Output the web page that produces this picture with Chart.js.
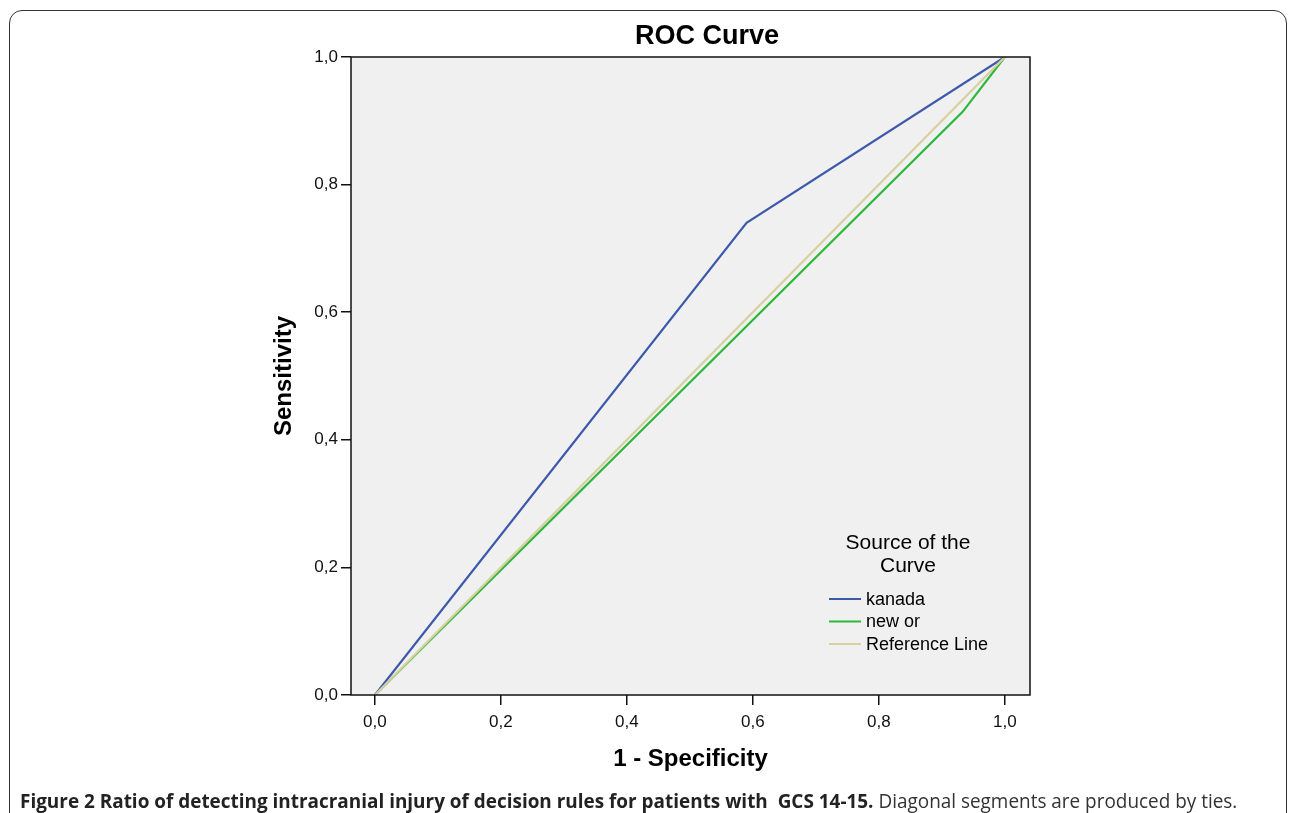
<!DOCTYPE html>
<html>
<head>
<meta charset="utf-8">
<script src="https://cdn.jsdelivr.net/npm/chart.js@4"></script>
<style>
  html, body { margin: 0; padding: 0; background: #fff; }
  body { width: 1292px; height: 813px; position: relative; overflow: hidden; }
  #frame {
    position: absolute; left: 9px; top: 10px; width: 1278px; height: 840px;
    border: 1.5px solid #333; border-radius: 13px; box-sizing: border-box;
  }
  #wrap { position: absolute; left: 0; top: 0; width: 1292px; height: 813px; }
  #caption {
    position: absolute; left: 20px; top: 787px; white-space: nowrap;
    font-family: "Open Sans", sans-serif; font-size: 20px; color: #222;
    transform-origin: left center;
  }
  #caption b { font-weight: 700; }
  #caption span { color: #333; }
</style>
</head>
<body>
<div id="frame"></div>
<div id="wrap"><canvas id="roc" width="1292" height="813"></canvas></div>
<div id="caption"><b>Figure 2 Ratio of detecting intracranial injury of decision rules for patients with&nbsp; GCS 14-15.</b> <span>Diagonal segments are produced by ties.</span></div>
<script>
// === Data ===
const kanadaX = [0, 0.59, 1];
const kanadaY = [0, 0.74, 1];
const newOrX = [0, 0.933, 1];
const newOrY = [0, 0.914, 1];
const refX = [0, 1];
const refY = [0, 1];
const tickValues = [0, 0.2, 0.4, 0.6, 0.8, 1.0];
const legendNames = ['kanada', 'new or', 'Reference Line'];
const lineColors = ['#3d59ab', '#2db83d', '#d6d19e'];

const pts = (xs, ys) => xs.map((x, i) => ({ x, y: ys[i] }));
const fmt = v => Number(v).toFixed(1).replace('.', ',');

// plot box + title + legend
const decor = {
  id: 'decor',
  beforeDatasetsDraw(chart) {
    const { ctx, chartArea: a } = chart;
    ctx.save();
    ctx.fillStyle = '#f0f0f0';
    ctx.fillRect(a.left, a.top, a.right - a.left, a.bottom - a.top);
    ctx.restore();
  },
  afterDraw(chart) {
    const { ctx, chartArea: a } = chart;
    ctx.save();
    ctx.strokeStyle = '#111';
    ctx.lineWidth = 1.5;
    ctx.strokeRect(a.left, a.top, a.right - a.left, a.bottom - a.top);

    ctx.fillStyle = '#000';
    ctx.textAlign = 'center';
    ctx.textBaseline = 'middle';
    ctx.font = 'bold 27px "Liberation Sans", Arial, sans-serif';
    ctx.fillText('ROC Curve', 707, 37);

    // legend
    ctx.font = '21px "Liberation Sans", Arial, sans-serif';
    ctx.fillText('Source of the', 908, 543);
    ctx.fillText('Curve', 908, 566);
    ctx.textAlign = 'left';
    ctx.font = '18px "Liberation Sans", Arial, sans-serif';
    legendNames.forEach((name, i) => {
      const y = 599 + i * 22.5;
      ctx.strokeStyle = lineColors[i];
      ctx.lineWidth = 2;
      ctx.beginPath();
      ctx.moveTo(829, y);
      ctx.lineTo(861, y);
      ctx.stroke();
      ctx.fillStyle = '#000';
      ctx.fillText(name, 866, y + 1);
    });
    ctx.restore();
  }
};

new Chart(document.getElementById('roc'), {
  type: 'line',
  data: {
    datasets: [
      { label: legendNames[2], data: pts(refX, refY), borderColor: lineColors[2], order: 0 },
      { label: legendNames[0], data: pts(kanadaX, kanadaY), borderColor: lineColors[0], order: 1 },
      { label: legendNames[1], data: pts(newOrX, newOrY), borderColor: lineColors[1], order: 2 }
    ]
  },
  options: {
    responsive: false,
    animation: false,
    devicePixelRatio: 1,
    parsing: false,
    elements: {
      line: { borderWidth: 2.2, tension: 0, fill: false },
      point: { radius: 0 }
    },
    layout: { padding: { left: 270, top: 57, right: 262, bottom: 37 } },
    plugins: { legend: { display: false }, tooltip: { enabled: false }, title: { display: false } },
    scales: {
      x: {
        type: 'linear',
        min: -0.038,
        max: 1.04,
        afterBuildTicks: s => { s.ticks = tickValues.map(v => ({ value: v })); },
        afterFit: s => { s.height = 81; },
        grid: { drawOnChartArea: false, drawTicks: true, tickLength: 10, color: '#111', lineWidth: 1.5 },
        border: { display: false },
        ticks: {
          callback: fmt, color: '#111', padding: 7, maxRotation: 0,
          font: { family: '"Liberation Sans", Arial, sans-serif', size: 17 }
        },
        title: {
          display: true, text: '1 - Specificity', color: '#000',
          padding: { top: 2, bottom: 2 },
          font: { family: '"Liberation Sans", Arial, sans-serif', size: 24, weight: 'bold' }
        }
      },
      y: {
        type: 'linear',
        min: 0,
        max: 1,
        afterBuildTicks: s => { s.ticks = tickValues.map(v => ({ value: v })); },
        afterFit: s => { s.width = 81; },
        grid: { drawOnChartArea: false, drawTicks: true, tickLength: 10, color: '#111', lineWidth: 1.5 },
        border: { display: false },
        ticks: {
          callback: fmt, color: '#111', padding: 3,
          font: { family: '"Liberation Sans", Arial, sans-serif', size: 17 }
        },
        title: {
          display: true, text: 'Sensitivity', color: '#000',
          padding: { top: 0, bottom: 0 },
          font: { family: '"Liberation Sans", Arial, sans-serif', size: 24, weight: 'bold' }
        }
      }
    }
  },
  plugins: [decor]
});

// squeeze caption to the width it has in the figure
const cap = document.getElementById('caption');
cap.style.transform = `scaleX(${1217 / cap.scrollWidth})`;
</script>
</body>
</html>
